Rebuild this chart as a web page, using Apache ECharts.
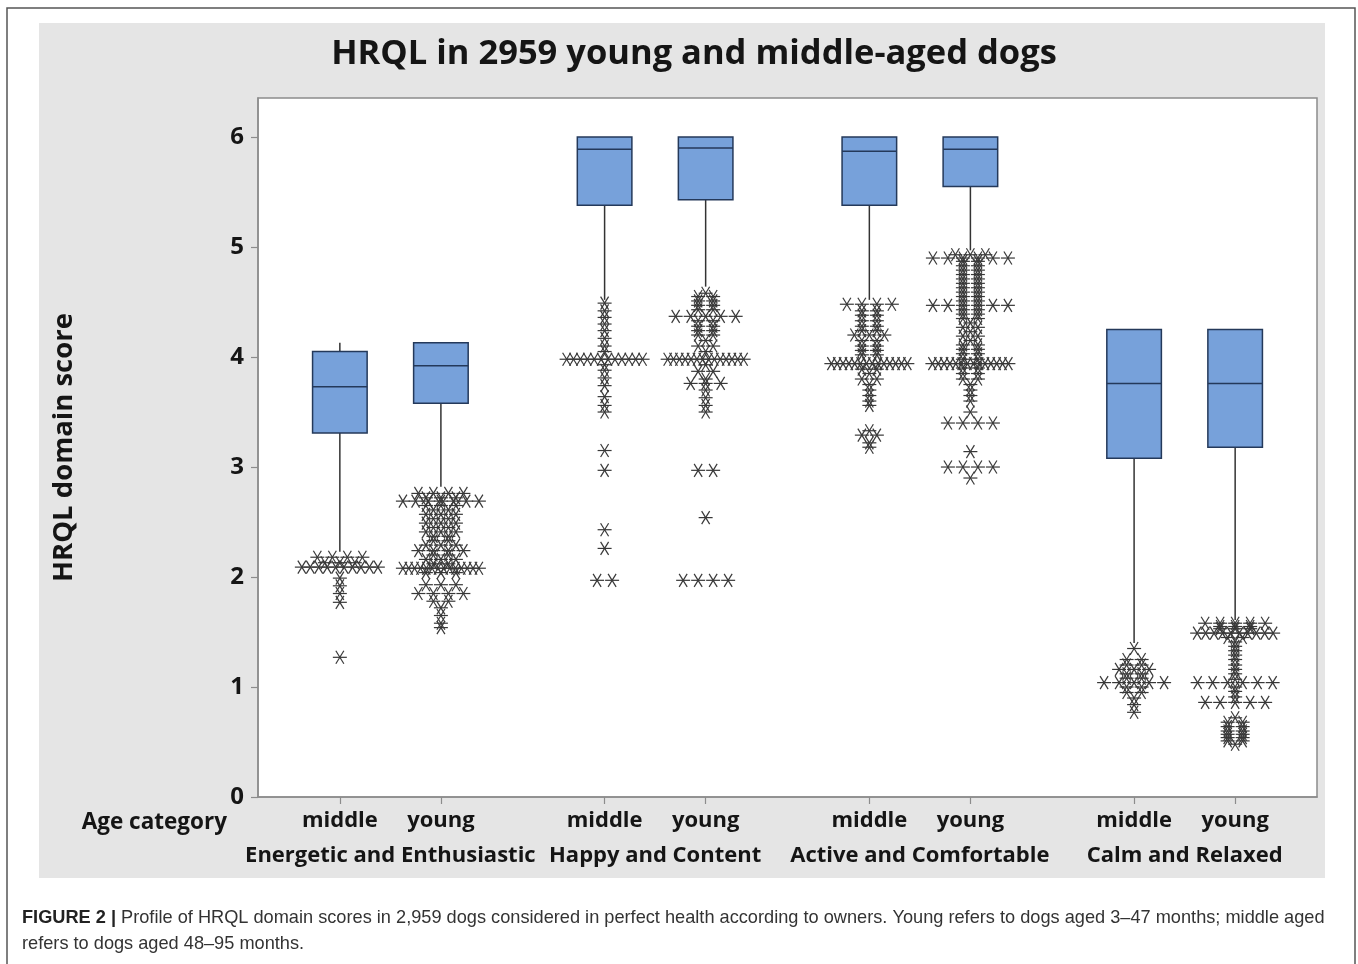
<!DOCTYPE html>
<html>
<head>
<meta charset="utf-8">
<script src="https://cdn.jsdelivr.net/npm/echarts@6/dist/echarts.min.js"></script>
<style>
  html, body { margin: 0; padding: 0; background: #ffffff; }
  #chart { width: 1358px; height: 964px; }
</style>
</head>
<body>
<div id="chart"></div>
<script>
// HRQL domains and age groups (x axis categories)
const domains = ['Energetic and Enthusiastic', 'Happy and Content', 'Active and Comfortable', 'Calm and Relaxed'];
const ageGroups = ['middle', 'young'];
const yTicks = [0, 1, 2, 3, 4, 5, 6];

// Box summaries: [lower whisker, Q1, median, Q3, upper whisker]
const boxEnergeticMiddle = [2.23, 3.31, 3.73, 4.05, 4.13];
const boxEnergeticYoung  = [2.82, 3.58, 3.92, 4.13, 4.13];
const boxHappyMiddle     = [4.52, 5.38, 5.89, 6.00, 6.00];
const boxHappyYoung      = [4.64, 5.43, 5.90, 6.00, 6.00];
const boxActiveMiddle    = [4.52, 5.38, 5.87, 6.00, 6.00];
const boxActiveYoung     = [4.97, 5.55, 5.89, 6.00, 6.00];
const boxCalmMiddle      = [1.40, 3.08, 3.76, 4.25, 4.25];
const boxCalmYoung       = [1.61, 3.18, 3.76, 4.25, 4.25];

// Outliers: [score, number of dogs at that score]
const outEnergeticMiddle = [[2.18, 4], [2.13, 3], [2.09, 10], [1.99, 1], [1.92, 1], [1.85, 1], [1.77, 1], [1.27, 1]];
const outEnergeticYoung = [[2.76, 4], [2.72, 3], [2.69, 7], [2.65, 3], [2.61, 2], [2.57, 3], [2.53, 2], [2.49, 3],
  [2.45, 2], [2.41, 3], [2.37, 2], [2.33, 2], [2.29, 3], [2.24, 4], [2.20, 2], [2.16, 3], [2.12, 2], [2.08, 14],
  [2.04, 3], [1.93, 3], [1.85, 4], [1.78, 2], [1.72, 1], [1.65, 1], [1.58, 1], [1.54, 1]];
const outHappyMiddle = [[4.49, 1], [4.42, 1], [4.36, 1], [4.30, 1], [4.24, 1], [4.17, 1], [4.10, 1], [4.05, 1],
  [3.98, 12], [3.93, 1], [3.88, 1], [3.81, 1], [3.74, 1], [3.64, 1], [3.56, 1], [3.50, 1], [3.15, 1], [2.97, 1],
  [2.43, 1], [2.26, 1], [1.97, 2]];
const outHappyYoung = [[4.58, 1], [4.55, 2], [4.51, 2], [4.47, 2], [4.43, 2], [4.37, 5], [4.33, 2], [4.28, 2],
  [4.24, 2], [4.20, 2], [4.15, 1], [4.10, 2], [4.05, 1], [3.98, 14], [3.93, 1], [3.87, 2], [3.80, 1], [3.76, 3],
  [3.70, 1], [3.63, 1], [3.56, 1], [3.50, 1], [2.97, 2], [2.54, 1], [1.97, 4]];
const outActiveMiddle = [[4.48, 4], [4.42, 2], [4.38, 2], [4.33, 2], [4.28, 2], [4.24, 2], [4.20, 3], [4.15, 2],
  [4.10, 2], [4.06, 2], [4.02, 2], [3.94, 14], [3.89, 2], [3.85, 1], [3.80, 2], [3.75, 1], [3.70, 1], [3.65, 1],
  [3.60, 1], [3.56, 1], [3.33, 1], [3.29, 2], [3.22, 1], [3.18, 1]];
const outActiveYoung = [[4.93, 3], [4.90, 6], [4.87, 2], [4.83, 2], [4.79, 2], [4.75, 2], [4.71, 2], [4.67, 2],
  [4.63, 2], [4.59, 2], [4.55, 2], [4.51, 2], [4.47, 6], [4.43, 2], [4.39, 2], [4.35, 2], [4.31, 1], [4.27, 2],
  [4.23, 1], [4.19, 2], [4.15, 1], [4.11, 2], [4.07, 2], [4.03, 2], [3.98, 2], [3.94, 14], [3.90, 2], [3.85, 2],
  [3.80, 2], [3.75, 1], [3.70, 1], [3.65, 1], [3.60, 1], [3.50, 1], [3.40, 4], [3.14, 1], [3.00, 4], [2.90, 1]];
const outCalmMiddle = [[1.35, 1], [1.25, 2], [1.20, 2], [1.16, 3], [1.12, 2], [1.08, 2], [1.04, 5], [1.00, 2],
  [0.95, 2], [0.90, 1], [0.84, 1], [0.77, 1]];
const outCalmYoung = [[1.58, 5], [1.55, 3], [1.53, 3], [1.49, 10], [1.45, 2], [1.41, 1], [1.37, 1], [1.33, 1],
  [1.29, 1], [1.25, 1], [1.20, 1], [1.16, 1], [1.12, 1], [1.07, 1], [1.04, 6], [1.00, 1], [0.96, 1], [0.91, 1],
  [0.86, 5], [0.72, 1], [0.68, 2], [0.64, 2], [0.60, 2], [0.57, 2], [0.54, 2], [0.51, 2], [0.48, 1]];

const boxesByDomain = [
  [boxEnergeticMiddle, boxEnergeticYoung],
  [boxHappyMiddle, boxHappyYoung],
  [boxActiveMiddle, boxActiveYoung],
  [boxCalmMiddle, boxCalmYoung]
];
const outliersByDomain = [
  [outEnergeticMiddle, outEnergeticYoung],
  [outHappyMiddle, outHappyYoung],
  [outActiveMiddle, outActiveYoung],
  [outCalmMiddle, outCalmYoung]
];

// x layout: boxes within a domain are 1 unit apart, domains are GROUP_PITCH apart
const GROUP_PITCH = 2.62;
const X_PAD = 0.81;
const BOX_WIDTH = 0.54;
const xOf = (g, s) => g * GROUP_PITCH + s;

const boxPositions = [];
const boxLabels = [];
const boxData = [];
const outlierData = [];
domains.forEach((d, g) => {
  ageGroups.forEach((a, s) => {
    const x = xOf(g, s);
    boxPositions.push(x);
    boxLabels.push(a);
    boxData.push([x].concat(boxesByDomain[g][s]));
    outliersByDomain[g][s].forEach(([v, n]) => outlierData.push([x, v, n]));
  });
});
const domainCenters = domains.map((d, g) => xOf(g, 0.5));

function nearestLabel(value, positions, labels) {
  let best = 0;
  positions.forEach((p, i) => { if (Math.abs(p - value) < Math.abs(positions[best] - value)) best = i; });
  return labels[best];
}

const INK = '#383838';
const BOX_FILL = '#77a1da';
const BOX_EDGE = '#24395a';
const AXIS_GREY = '#8c8c8c';
const TEXT = '#151515';
const LABEL_FONT = "'Open Sans', 'DejaVu Sans', sans-serif";

function renderBox(params, api) {
  const x = api.value(0);
  const lo = api.coord([x, api.value(1)]);
  const q1 = api.coord([x, api.value(2)]);
  const med = api.coord([x, api.value(3)]);
  const q3 = api.coord([x, api.value(4)]);
  const hi = api.coord([x, api.value(5)]);
  const w = api.size([BOX_WIDTH, 0])[0];
  const cx = q1[0];
  const whisker = { stroke: '#333333', lineWidth: 1.5 };
  return {
    type: 'group',
    children: [
      { type: 'line', shape: { x1: cx, y1: lo[1], x2: cx, y2: q1[1] }, style: whisker },
      { type: 'line', shape: { x1: cx, y1: q3[1], x2: cx, y2: hi[1] }, style: whisker },
      { type: 'rect', shape: { x: cx - w / 2, y: q3[1], width: w, height: q1[1] - q3[1] },
        style: { fill: BOX_FILL, stroke: BOX_EDGE, lineWidth: 1.5 } },
      { type: 'line', shape: { x1: cx - w / 2, y1: med[1], x2: cx + w / 2, y2: med[1] },
        style: { stroke: BOX_EDGE, lineWidth: 1.5 } }
    ]
  };
}

// Asterisk outlier symbols; tied values are laid side by side
function renderOutliers(params, api) {
  const c = api.coord([api.value(0), api.value(1)]);
  const n = api.value(2);
  const step = n > 1 ? Math.min(15, 76 / (n - 1)) : 0;
  const style = { stroke: INK, lineWidth: 1.2 };
  const children = [];
  for (let k = 0; k < n; k++) {
    const x = c[0] + (k - (n - 1) / 2) * step;
    const y = c[1];
    children.push(
      { type: 'line', shape: { x1: x - 7, y1: y, x2: x + 7, y2: y }, style },
      { type: 'line', shape: { x1: x - 4, y1: y - 6.5, x2: x + 4, y2: y + 6.5 }, style },
      { type: 'line', shape: { x1: x + 4, y1: y - 6.5, x2: x - 4, y2: y + 6.5 }, style }
    );
  }
  return { type: 'group', children };
}

const chart = echarts.init(document.getElementById('chart'), null, { renderer: 'canvas' });

const option = {
  animation: false,
  backgroundColor: '#ffffff',
  graphic: [
    { type: 'rect', z: -10, shape: { x: 7, y: 8, width: 1348, height: 970 },
      style: { fill: '#ffffff', stroke: '#555555', lineWidth: 1.5 } },
    { type: 'rect', z: -9, shape: { x: 39, y: 23, width: 1286, height: 855 },
      style: { fill: '#e5e5e5' } },
    { type: 'text', z: 10, style: { text: 'HRQL in 2959 young and middle-aged dogs', x: 694, y: 54,
      textAlign: 'center', textVerticalAlign: 'middle', fill: TEXT,
      font: "bold 34.5px 'Open Sans', 'DejaVu Sans', sans-serif" } },
    { type: 'text', z: 10, style: { text: 'Age category', x: 227, y: 823,
      textAlign: 'right', textVerticalAlign: 'middle', fill: TEXT,
      font: "bold 22.5px 'Open Sans', 'DejaVu Sans', sans-serif" } },
    { type: 'text', z: 10, style: {
      text: '{b|FIGURE 2 |} Profile of HRQL domain scores in 2,959 dogs considered in perfect health according to owners. Young refers to dogs aged 3\u201347 months; middle aged',
      x: 22, y: 918, textAlign: 'left', textVerticalAlign: 'middle', fill: '#333333',
      font: "18.2px 'Liberation Sans', Arial, sans-serif",
      rich: { b: { fontWeight: 'bold', fontSize: 18.2, fontFamily: "'Liberation Sans', Arial, sans-serif", fill: '#222222' } } } },
    { type: 'text', z: 10, style: { text: 'refers to dogs aged 48\u201395 months.', x: 22, y: 944,
      textAlign: 'left', textVerticalAlign: 'middle', fill: '#333333',
      font: "18.2px 'Liberation Sans', Arial, sans-serif" } }
  ],
  grid: {
    left: 258, top: 98, right: 41, bottom: 167,
    show: true, backgroundColor: '#ffffff', borderColor: AXIS_GREY, borderWidth: 1.5
  },
  xAxis: [
    {
      type: 'value', min: -X_PAD, max: xOf(domains.length - 1, 1) + X_PAD,
      splitLine: { show: false },
      axisLine: { show: true, onZero: false, lineStyle: { color: AXIS_GREY, width: 1.5 } },
      axisTick: { show: true, customValues: boxPositions, length: 7, lineStyle: { color: AXIS_GREY, width: 1.2 } },
      axisLabel: {
        customValues: boxPositions, margin: 13,
        formatter: v => nearestLabel(v, boxPositions, boxLabels),
        color: TEXT, fontSize: 22, fontWeight: 'bold', fontFamily: LABEL_FONT
      }
    },
    {
      type: 'value', min: -X_PAD, max: xOf(domains.length - 1, 1) + X_PAD,
      position: 'bottom', offset: 35,
      splitLine: { show: false },
      axisLine: { show: false, onZero: false }, axisTick: { show: false },
      axisLabel: {
        customValues: domainCenters, margin: 13,
        formatter: v => nearestLabel(v, domainCenters, domains),
        color: TEXT, fontSize: 22, fontWeight: 'bold', fontFamily: LABEL_FONT
      }
    }
  ],
  yAxis: {
    type: 'value', min: 0, max: 6.355,
    name: 'HRQL domain score', nameLocation: 'middle', nameGap: 180, nameRotate: 90,
    nameTextStyle: { color: TEXT, fontSize: 27.5, fontWeight: 'bold', fontFamily: LABEL_FONT },
    splitLine: { show: false },
    axisLine: { show: true, onZero: false, lineStyle: { color: AXIS_GREY, width: 1.5 } },
    axisTick: { show: true, customValues: yTicks, length: 7, lineStyle: { color: AXIS_GREY, width: 1.2 } },
    axisLabel: {
      customValues: yTicks, margin: 14,
      color: TEXT, fontSize: 24, fontWeight: 'bold', fontFamily: LABEL_FONT
    }
  },
  series: [
    {
      type: 'custom', name: 'boxes', xAxisIndex: 0, yAxisIndex: 0,
      renderItem: renderBox, data: boxData,
      encode: { x: 0, y: [1, 2, 3, 4, 5] }, z: 2
    },
    {
      type: 'custom', name: 'outliers', xAxisIndex: 0, yAxisIndex: 0,
      renderItem: renderOutliers, data: outlierData,
      encode: { x: 0, y: 1 }, z: 3
    }
  ]
};

chart.setOption(option);
</script>
</body>
</html>
